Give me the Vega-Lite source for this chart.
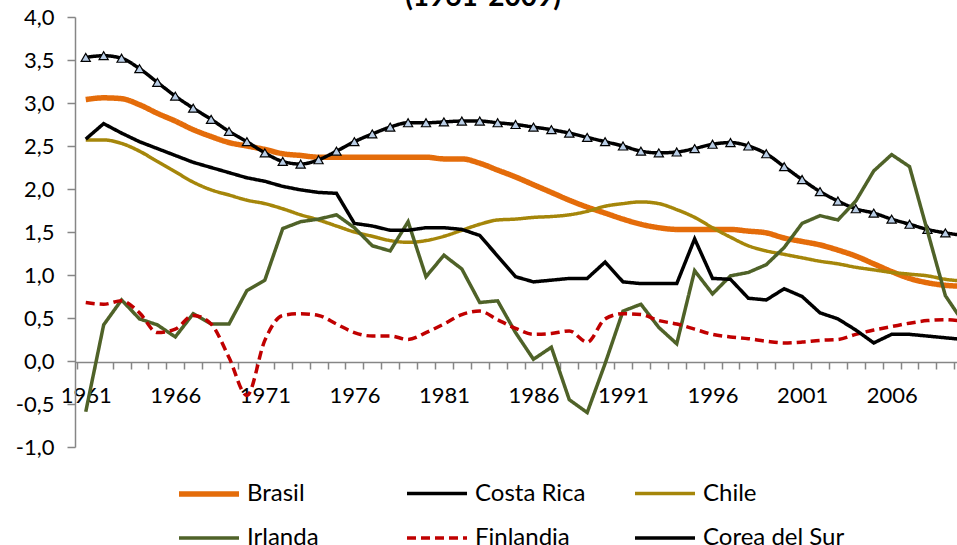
{
  "$schema": "https://vega.github.io/schema/vega-lite/v6.json",
  "width": 882,
  "height": 430,
  "autosize": {"type": "none"},
  "padding": {"left": 75, "top": 17, "right": 0, "bottom": 98},
  "background": "white",
  "title": {"text": "(1961-2009)", "font": "Lato", "fontSize": 28, "fontWeight": "bold", "color": "#000000", "anchor": "middle", "frame": "group", "dx": -33, "dy": 34, "offset": 0, "baseline": "bottom"},
  "config": {
    "locale": {"number": {"decimal": ",", "thousands": ".", "grouping": [3], "currency": ["", ""], "minus": "-"}},
    "view": {"stroke": null},
    "axis": {"labelFont": "Lato", "labelFontSize": 22, "labelColor": "#000000", "domainColor": "#868686", "tickColor": "#868686", "domainWidth": 1.5, "tickWidth": 1.5, "grid": false, "title": null},
    "legend": {"orient": "none", "legendX": 101, "legendY": 444, "direction": "horizontal", "columns": 3, "symbolType": "stroke", "symbolSize": 3600, "labelFont": "Lato", "labelFontSize": 24, "labelColor": "#000000", "labelOffset": 5, "columnPadding": 11, "rowPadding": 0, "padding": 0, "title": null, "labelLimit": 400, "gridAlign": "all"}
  },
  "data": {"values": [
    {"anio": 1961, "Brasil": 3.04, "Costa Rica": 3.53, "Chile": 2.57, "Irlanda": -0.59, "Finlandia": 0.68, "Corea del Sur": 2.58},
    {"anio": 1962, "Brasil": 3.06, "Costa Rica": 3.55, "Chile": 2.57, "Irlanda": 0.42, "Finlandia": 0.66, "Corea del Sur": 2.76},
    {"anio": 1963, "Brasil": 3.05, "Costa Rica": 3.52, "Chile": 2.53, "Irlanda": 0.71, "Finlandia": 0.70, "Corea del Sur": 2.65},
    {"anio": 1964, "Brasil": 2.98, "Costa Rica": 3.40, "Chile": 2.44, "Irlanda": 0.49, "Finlandia": 0.56, "Corea del Sur": 2.55},
    {"anio": 1965, "Brasil": 2.88, "Costa Rica": 3.24, "Chile": 2.32, "Irlanda": 0.42, "Finlandia": 0.33, "Corea del Sur": 2.47},
    {"anio": 1966, "Brasil": 2.79, "Costa Rica": 3.08, "Chile": 2.20, "Irlanda": 0.28, "Finlandia": 0.37, "Corea del Sur": 2.39},
    {"anio": 1967, "Brasil": 2.69, "Costa Rica": 2.94, "Chile": 2.08, "Irlanda": 0.55, "Finlandia": 0.53, "Corea del Sur": 2.31},
    {"anio": 1968, "Brasil": 2.61, "Costa Rica": 2.81, "Chile": 1.99, "Irlanda": 0.43, "Finlandia": 0.43, "Corea del Sur": 2.25},
    {"anio": 1969, "Brasil": 2.54, "Costa Rica": 2.67, "Chile": 1.93, "Irlanda": 0.43, "Finlandia": 0.04, "Corea del Sur": 2.19},
    {"anio": 1970, "Brasil": 2.50, "Costa Rica": 2.55, "Chile": 1.87, "Irlanda": 0.82, "Finlandia": -0.40, "Corea del Sur": 2.13},
    {"anio": 1971, "Brasil": 2.46, "Costa Rica": 2.42, "Chile": 1.83, "Irlanda": 0.94, "Finlandia": 0.24, "Corea del Sur": 2.09},
    {"anio": 1972, "Brasil": 2.41, "Costa Rica": 2.32, "Chile": 1.77, "Irlanda": 1.54, "Finlandia": 0.53, "Corea del Sur": 2.03},
    {"anio": 1973, "Brasil": 2.39, "Costa Rica": 2.29, "Chile": 1.70, "Irlanda": 1.62, "Finlandia": 0.55, "Corea del Sur": 1.99},
    {"anio": 1974, "Brasil": 2.37, "Costa Rica": 2.34, "Chile": 1.64, "Irlanda": 1.65, "Finlandia": 0.53, "Corea del Sur": 1.96},
    {"anio": 1975, "Brasil": 2.37, "Costa Rica": 2.44, "Chile": 1.57, "Irlanda": 1.70, "Finlandia": 0.43, "Corea del Sur": 1.95},
    {"anio": 1976, "Brasil": 2.37, "Costa Rica": 2.55, "Chile": 1.50, "Irlanda": 1.55, "Finlandia": 0.33, "Corea del Sur": 1.60},
    {"anio": 1977, "Brasil": 2.37, "Costa Rica": 2.64, "Chile": 1.45, "Irlanda": 1.34, "Finlandia": 0.29, "Corea del Sur": 1.57},
    {"anio": 1978, "Brasil": 2.37, "Costa Rica": 2.72, "Chile": 1.40, "Irlanda": 1.28, "Finlandia": 0.29, "Corea del Sur": 1.52},
    {"anio": 1979, "Brasil": 2.37, "Costa Rica": 2.77, "Chile": 1.38, "Irlanda": 1.62, "Finlandia": 0.25, "Corea del Sur": 1.52},
    {"anio": 1980, "Brasil": 2.37, "Costa Rica": 2.77, "Chile": 1.40, "Irlanda": 0.98, "Finlandia": 0.33, "Corea del Sur": 1.55},
    {"anio": 1981, "Brasil": 2.35, "Costa Rica": 2.78, "Chile": 1.45, "Irlanda": 1.23, "Finlandia": 0.43, "Corea del Sur": 1.55},
    {"anio": 1982, "Brasil": 2.35, "Costa Rica": 2.79, "Chile": 1.52, "Irlanda": 1.07, "Finlandia": 0.54, "Corea del Sur": 1.53},
    {"anio": 1983, "Brasil": 2.30, "Costa Rica": 2.79, "Chile": 1.59, "Irlanda": 0.68, "Finlandia": 0.58, "Corea del Sur": 1.46},
    {"anio": 1984, "Brasil": 2.22, "Costa Rica": 2.77, "Chile": 1.64, "Irlanda": 0.70, "Finlandia": 0.48, "Corea del Sur": 1.22},
    {"anio": 1985, "Brasil": 2.14, "Costa Rica": 2.75, "Chile": 1.65, "Irlanda": 0.33, "Finlandia": 0.38, "Corea del Sur": 0.98},
    {"anio": 1986, "Brasil": 2.05, "Costa Rica": 2.72, "Chile": 1.67, "Irlanda": 0.02, "Finlandia": 0.31, "Corea del Sur": 0.92},
    {"anio": 1987, "Brasil": 1.96, "Costa Rica": 2.69, "Chile": 1.68, "Irlanda": 0.16, "Finlandia": 0.32, "Corea del Sur": 0.94},
    {"anio": 1988, "Brasil": 1.87, "Costa Rica": 2.65, "Chile": 1.70, "Irlanda": -0.45, "Finlandia": 0.35, "Corea del Sur": 0.96},
    {"anio": 1989, "Brasil": 1.79, "Costa Rica": 2.60, "Chile": 1.74, "Irlanda": -0.60, "Finlandia": 0.22, "Corea del Sur": 0.96},
    {"anio": 1990, "Brasil": 1.72, "Costa Rica": 2.55, "Chile": 1.80, "Irlanda": -0.03, "Finlandia": 0.49, "Corea del Sur": 1.15},
    {"anio": 1991, "Brasil": 1.65, "Costa Rica": 2.50, "Chile": 1.83, "Irlanda": 0.58, "Finlandia": 0.55, "Corea del Sur": 0.92},
    {"anio": 1992, "Brasil": 1.59, "Costa Rica": 2.44, "Chile": 1.85, "Irlanda": 0.66, "Finlandia": 0.54, "Corea del Sur": 0.90},
    {"anio": 1993, "Brasil": 1.55, "Costa Rica": 2.42, "Chile": 1.83, "Irlanda": 0.39, "Finlandia": 0.47, "Corea del Sur": 0.90},
    {"anio": 1994, "Brasil": 1.53, "Costa Rica": 2.43, "Chile": 1.76, "Irlanda": 0.20, "Finlandia": 0.43, "Corea del Sur": 0.90},
    {"anio": 1995, "Brasil": 1.53, "Costa Rica": 2.47, "Chile": 1.67, "Irlanda": 1.05, "Finlandia": 0.37, "Corea del Sur": 1.42},
    {"anio": 1996, "Brasil": 1.53, "Costa Rica": 2.52, "Chile": 1.55, "Irlanda": 0.78, "Finlandia": 0.31, "Corea del Sur": 0.96},
    {"anio": 1997, "Brasil": 1.53, "Costa Rica": 2.54, "Chile": 1.44, "Irlanda": 0.99, "Finlandia": 0.28, "Corea del Sur": 0.95},
    {"anio": 1998, "Brasil": 1.51, "Costa Rica": 2.50, "Chile": 1.34, "Irlanda": 1.03, "Finlandia": 0.26, "Corea del Sur": 0.73},
    {"anio": 1999, "Brasil": 1.49, "Costa Rica": 2.41, "Chile": 1.28, "Irlanda": 1.12, "Finlandia": 0.23, "Corea del Sur": 0.71},
    {"anio": 2000, "Brasil": 1.43, "Costa Rica": 2.26, "Chile": 1.24, "Irlanda": 1.32, "Finlandia": 0.21, "Corea del Sur": 0.84},
    {"anio": 2001, "Brasil": 1.39, "Costa Rica": 2.11, "Chile": 1.20, "Irlanda": 1.60, "Finlandia": 0.22, "Corea del Sur": 0.75},
    {"anio": 2002, "Brasil": 1.35, "Costa Rica": 1.97, "Chile": 1.16, "Irlanda": 1.69, "Finlandia": 0.24, "Corea del Sur": 0.56},
    {"anio": 2003, "Brasil": 1.29, "Costa Rica": 1.86, "Chile": 1.13, "Irlanda": 1.64, "Finlandia": 0.25, "Corea del Sur": 0.49},
    {"anio": 2004, "Brasil": 1.22, "Costa Rica": 1.77, "Chile": 1.09, "Irlanda": 1.86, "Finlandia": 0.31, "Corea del Sur": 0.36},
    {"anio": 2005, "Brasil": 1.13, "Costa Rica": 1.72, "Chile": 1.06, "Irlanda": 2.21, "Finlandia": 0.36, "Corea del Sur": 0.21},
    {"anio": 2006, "Brasil": 1.04, "Costa Rica": 1.65, "Chile": 1.03, "Irlanda": 2.40, "Finlandia": 0.40, "Corea del Sur": 0.31},
    {"anio": 2007, "Brasil": 0.96, "Costa Rica": 1.59, "Chile": 1.01, "Irlanda": 2.26, "Finlandia": 0.44, "Corea del Sur": 0.31},
    {"anio": 2008, "Brasil": 0.91, "Costa Rica": 1.53, "Chile": 0.99, "Irlanda": 1.51, "Finlandia": 0.47, "Corea del Sur": 0.29},
    {"anio": 2009, "Brasil": 0.88, "Costa Rica": 1.49, "Chile": 0.95, "Irlanda": 0.76, "Finlandia": 0.48, "Corea del Sur": 0.27},
    {"anio": 2010, "Brasil": 0.87, "Costa Rica": 1.46, "Chile": 0.93, "Irlanda": 0.45, "Finlandia": 0.46, "Corea del Sur": 0.25}
  ]},
  "transform": [{"fold": ["Brasil", "Costa Rica", "Chile", "Irlanda", "Finlandia", "Corea del Sur"], "as": ["serie", "valor"]}],
  "encoding": {
    "x": {"field": "anio", "type": "quantitative",
      "scale": {"domain": [1960.4, 2009.65], "nice": false, "zero": false},
      "axis": {"values": [1960.5, 1961.5, 1962.5, 1963.5, 1964.5, 1965.5, 1966.5, 1967.5, 1968.5, 1969.5, 1970.5, 1971.5, 1972.5, 1973.5, 1974.5, 1975.5, 1976.5, 1977.5, 1978.5, 1979.5, 1980.5, 1981.5, 1982.5, 1983.5, 1984.5, 1985.5, 1986.5, 1987.5, 1988.5, 1989.5, 1990.5, 1991.5, 1992.5, 1993.5, 1994.5, 1995.5, 1996.5, 1997.5, 1998.5, 1999.5, 2000.5, 2001.5, 2002.5, 2003.5, 2004.5, 2005.5, 2006.5, 2007.5, 2008.5, 2009.5],
        "labelExpr": "((datum.value + 0.5 - 1961) % 5 == 0) ? format(datum.value + 0.5, 'd') : ''",
        "labelOffset": 9, "tickSize": 7, "labelPadding": 16, "offset": -85, "labelOverlap": false, "labelFlush": false}},
    "y": {"field": "valor", "type": "quantitative",
      "scale": {"domain": [-1, 4], "nice": false, "zero": false},
      "axis": {"values": [-1, -0.5, 0, 0.5, 1, 1.5, 2, 2.5, 3, 3.5, 4], "format": ".1f", "tickSize": 8, "labelPadding": 13}},
    "color": {"field": "serie", "type": "nominal",
      "scale": {"domain": ["Brasil", "Costa Rica", "Chile", "Irlanda", "Finlandia", "Corea del Sur"], "range": ["#E46C0A", "#000000", "#A5860A", "#4F6228", "#C00000", "#000000"]}},
    "strokeDash": {"field": "serie", "type": "nominal",
      "scale": {"domain": ["Brasil", "Costa Rica", "Chile", "Irlanda", "Finlandia", "Corea del Sur"], "range": [[1, 0], [1, 0], [1, 0], [1, 0], [9, 5], [1, 0]]}},
    "strokeWidth": {"field": "serie", "type": "nominal",
      "scale": {"type": "ordinal", "domain": ["Brasil", "Costa Rica", "Chile", "Irlanda", "Finlandia", "Corea del Sur"], "range": [5.5, 3.5, 3.5, 3.5, 3.5, 3.5]}}
  },
  "layer": [
    {"transform": [{"filter": {"field": "serie", "equal": "Brasil"}}], "mark": {"type": "line", "interpolate": "monotone", "clip": true}},
    {"transform": [{"filter": {"field": "serie", "equal": "Costa Rica"}}], "mark": {"type": "line", "interpolate": "monotone", "clip": true}},
    {"transform": [{"filter": {"field": "serie", "equal": "Costa Rica"}}], "mark": {"type": "point", "shape": "triangle-up", "filled": true, "size": 85, "stroke": "#000000", "opacity": 1, "clip": true},
      "encoding": {"color": {"value": "#B9CDE5"}, "strokeDash": {"value": [1, 0]}, "strokeWidth": {"value": 1.2}}},
    {"transform": [{"filter": {"field": "serie", "equal": "Chile"}}], "mark": {"type": "line", "interpolate": "monotone", "clip": true}},
    {"transform": [{"filter": {"field": "serie", "equal": "Irlanda"}}], "mark": {"type": "line", "interpolate": "linear", "clip": true}},
    {"transform": [{"filter": {"field": "serie", "equal": "Finlandia"}}], "mark": {"type": "line", "interpolate": "monotone", "clip": true}},
    {"transform": [{"filter": {"field": "serie", "equal": "Corea del Sur"}}], "mark": {"type": "line", "interpolate": "linear", "clip": true}}
  ]
}
